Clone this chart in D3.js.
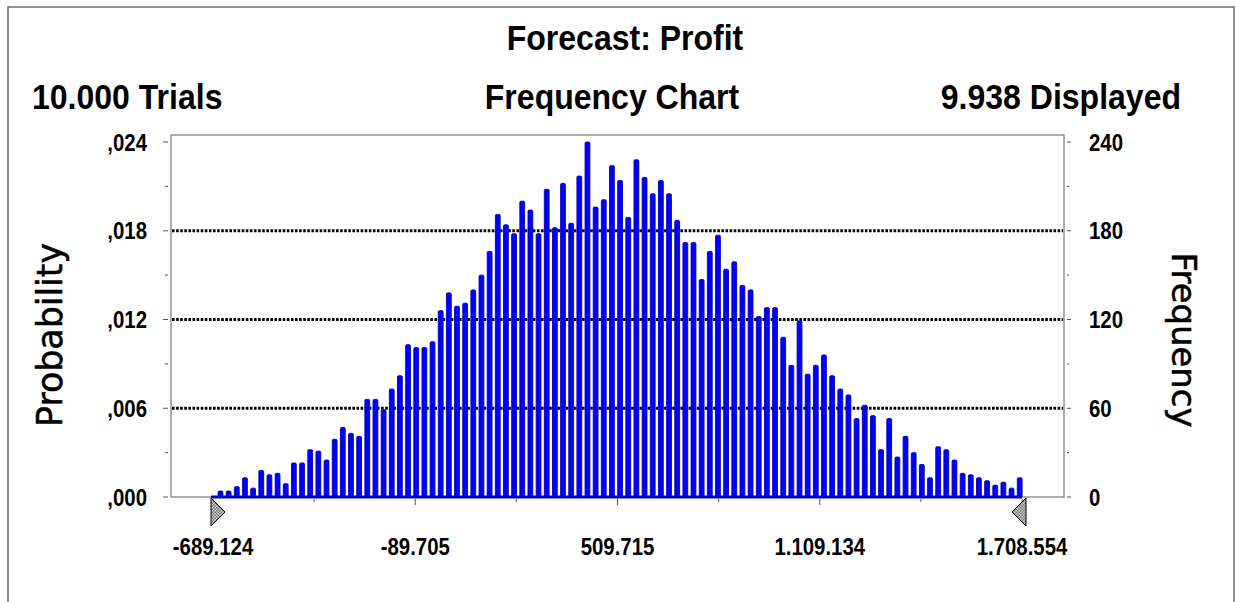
<!DOCTYPE html>
<html>
<head>
<meta charset="utf-8">
<script src="https://cdn.jsdelivr.net/npm/d3@7/dist/d3.min.js"></script>
<style>
  body { margin: 0; background: #fff; }
  svg { display: block; }
  .bold { font-family: "Liberation Sans", Arial, sans-serif; font-weight: bold; fill: #000; }
  .axisTitle { font-family: "DejaVu Sans", sans-serif; fill: #000; stroke: #000; stroke-width: 0.5; }
</style>
</head>
<body>
<script>

// forecast data
var trials = 10000;
var displayed = 9938;
var counts = [
    4, 4, 7, 13, 6, 18, 15, 16, 9, 23,
    23, 32, 31, 25, 39, 47, 43, 41, 66, 66,
    59, 73, 82, 103, 101, 101, 105, 126, 138, 129,
    131, 140, 150, 166, 191, 184, 178, 200, 194, 178,
    208, 182, 212, 185, 217, 240, 196, 201, 224, 214,
    189, 228, 216, 205, 214, 205, 187, 172, 172, 147,
    166, 177, 154, 159, 143, 140, 122, 128, 128, 108,
    89, 119, 83, 89, 96, 82, 73, 69, 53, 62,
    55, 32, 53, 27, 41, 30, 22, 13, 34, 32,
    25, 16, 15, 13, 11, 8, 10, 6, 13
];
var binStart = -679.0;
var binWidth = 24.17;

var xTickValues = [-689.124, -89.705, 509.715, 1109.134, 1708.554];
var xTickLabels = ["-689.124", "-89.705", "509.715", "1.109.134", "1.708.554"];
var probTicks = [0, 0.006, 0.012, 0.018, 0.024];
var probLabels = [",000", ",006", ",012", ",018", ",024"];
var freqTicks = [0, 60, 120, 180, 240];
var freqLabels = ["0", "60", "120", "180", "240"];

var width = 1236,
    height = 602;

var plotLeft = 171, plotRight = 1064, plotTop = 135, plotBottom = 497;

var svg = d3.select("body").append("svg")
    .attr("width", width)
    .attr("height", height);

// condensed bold text helper (the original font is taller than it is wide)
function label(g, x, y, size, sx, anchor, txt) {
    return g.append("text")
        .attr("class", "bold")
        .attr("transform", "translate(" + x + "," + y + ") scale(" + sx + ",1)")
        .attr("font-size", size)
        .attr("text-anchor", anchor)
        .text(txt);
}

// checkered fill for the range markers
var pat = svg.append("defs").append("pattern")
    .attr("id", "checker")
    .attr("width", 3).attr("height", 3)
    .attr("patternUnits", "userSpaceOnUse");
pat.append("rect").attr("width", 3).attr("height", 3).attr("fill", "#d8d8d8");
pat.append("rect").attr("width", 1.5).attr("height", 1.5).attr("fill", "#6a6a6a");
pat.append("rect").attr("x", 1.5).attr("y", 1.5).attr("width", 1.5).attr("height", 1.5).attr("fill", "#6a6a6a");

// outer frame
svg.append("path")
    .attr("d", "M8," + height + "V7H1234V" + height)
    .attr("fill", "none")
    .attr("stroke", "#6e6e6e")
    .attr("stroke-width", 1.5);

var x = d3.scaleLinear()
    .domain([xTickValues[0], xTickValues[xTickValues.length - 1]])
    .range([213, 1022]);

var yProb = d3.scaleLinear()
    .domain([0, 0.024])
    .range([plotBottom, 142]);

var yFreq = d3.scaleLinear()
    .domain([0, 240])
    .range([plotBottom, 142]);

// titles
var fmt = function(n) { return d3.format(",")(n).replace(/,/g, "."); };
label(svg, 625, 50, 35, 0.915, "middle", "Forecast: Profit");
label(svg, 32, 109, 35, 0.915, "start", fmt(trials) + " Trials");
label(svg, 612, 109, 35, 0.915, "middle", "Frequency Chart");
label(svg, 1181, 109, 35, 0.915, "end", fmt(displayed) + " Displayed");

// dotted grid lines
svg.append("g")
    .selectAll("line")
    .data(probTicks.slice(1, 4))
    .enter().append("line")
    .attr("x1", plotLeft + 1).attr("x2", plotRight - 1)
    .attr("y1", function(d) { return yProb(d); })
    .attr("y2", function(d) { return yProb(d); })
    .attr("stroke", "#000")
    .attr("stroke-width", 3)
    .attr("stroke-dasharray", "2.6,1.5");

// plot frame
svg.append("rect")
    .attr("x", plotLeft).attr("y", plotTop)
    .attr("width", plotRight - plotLeft)
    .attr("height", plotBottom - plotTop)
    .attr("fill", "none")
    .attr("stroke", "#777")
    .attr("stroke-width", 1.2);

// left ticks + labels
var minorProb = d3.range(0, 0.0241, 0.003);
svg.append("g").selectAll("line")
    .data(minorProb)
    .enter().append("line")
    .attr("x1", function(d, i) { return i % 2 == 0 ? 163 : 165; })
    .attr("x2", 168)
    .attr("y1", function(d) { return yProb(d); })
    .attr("y2", function(d) { return yProb(d); })
    .attr("stroke", "#555");

var gl = svg.append("g");
probTicks.forEach(function(d, i) {
    label(gl, 147, yProb(d) + 8.5, 24, 0.85, "end", probLabels[i]);
});

// right ticks + labels
var minorFreq = d3.range(0, 241, 30);
svg.append("g").selectAll("line")
    .data(minorFreq)
    .enter().append("line")
    .attr("x1", 1067)
    .attr("x2", function(d, i) { return i % 2 == 0 ? 1071 : 1069; })
    .attr("y1", function(d) { return yFreq(d); })
    .attr("y2", function(d) { return yFreq(d); })
    .attr("stroke", "#555");

var gr = svg.append("g");
freqTicks.forEach(function(d, i) {
    label(gr, 1089, yFreq(d) + 8.5, 24, 0.85, "start", freqLabels[i]);
});

// axis titles
svg.append("text").attr("class", "axisTitle")
    .attr("transform", "translate(62,335) rotate(-90)")
    .attr("text-anchor", "middle")
    .attr("font-size", 35)
    .attr("textLength", 184)
    .attr("lengthAdjust", "spacingAndGlyphs")
    .text("Probability");

svg.append("text").attr("class", "axisTitle")
    .attr("transform", "translate(1172,340) rotate(90)")
    .attr("text-anchor", "middle")
    .attr("font-size", 34)
    .attr("textLength", 175)
    .attr("lengthAdjust", "spacingAndGlyphs")
    .text("Frequency");

// x ticks (major at labels, minor between)
var xMinor = [];
xTickValues.forEach(function(v, i) {
    xMinor.push({v: v, major: true});
    if (i < xTickValues.length - 1) xMinor.push({v: (v + xTickValues[i + 1]) / 2, major: false});
});
svg.append("g").selectAll("line")
    .data(xMinor)
    .enter().append("line")
    .attr("x1", function(d) { return x(d.v); })
    .attr("x2", function(d) { return x(d.v); })
    .attr("y1", plotBottom + 2)
    .attr("y2", function(d) { return plotBottom + (d.major ? 8 : 5); })
    .attr("stroke", "#555");

// bars
svg.append("g")
    .selectAll("rect")
    .data(counts)
    .enter().append("rect")
    .attr("x", function(d, i) { return x(binStart + (i + 0.5) * binWidth) - 2.4; })
    .attr("y", function(d) { return yProb(d / trials); })
    .attr("width", 4.8)
    .attr("height", function(d) { return plotBottom - yProb(d / trials); })
    .attr("rx", 1.2)
    .attr("fill", "#0000ff")
    .attr("stroke", "#0000b4")
    .attr("stroke-width", 0.9);

// blue base line under the bars
svg.append("line")
    .attr("x1", x(xTickValues[0]) - 2)
    .attr("x2", x(xTickValues[xTickValues.length - 1]))
    .attr("y1", plotBottom)
    .attr("y2", plotBottom)
    .attr("stroke", "#0000c0")
    .attr("stroke-width", 3);

// range markers
var lo = x(xTickValues[0]) - 2,
    hi = x(xTickValues[xTickValues.length - 1]) + 4;
[[lo, 14], [hi, -14]].forEach(function(m) {
    svg.append("path")
        .attr("d", "M" + m[0] + "," + (plotBottom + 1) + "L" + (m[0] + m[1]) + "," + (plotBottom + 15) +
            "L" + m[0] + "," + (plotBottom + 29) + "Z")
        .attr("fill", "url(#checker)")
        .attr("stroke", "#000")
        .attr("stroke-width", 1);
});

// x labels
var gx = svg.append("g");
xTickValues.forEach(function(d, i) {
    label(gx, x(d), 555, 24, 0.85, "middle", xTickLabels[i]);
});

</script>
</body>
</html>
